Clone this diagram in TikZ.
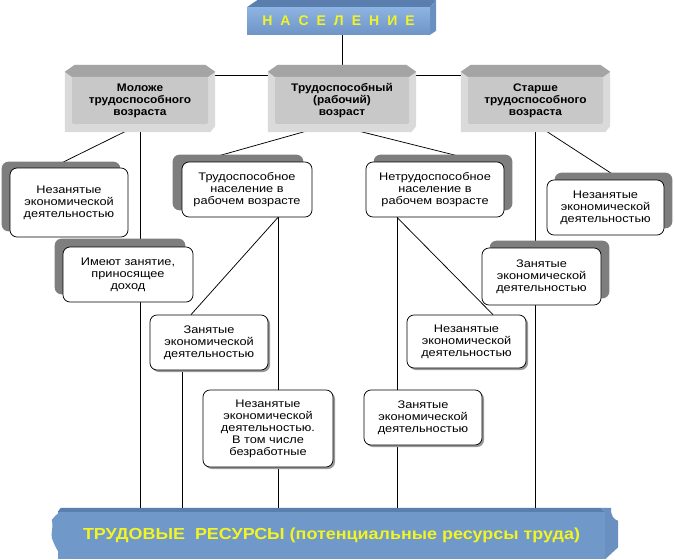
\documentclass[tikz,border=0pt]{standalone}
\usepackage{fontspec}
\setmainfont{Liberation Sans}
\newfontfamily\bxfont{Liberation Sans}[FakeStretch=1.16]
\newfontfamily\gbfont{Liberation Sans}[FakeStretch=1.08]
\newfontfamily\bnfont{Liberation Sans}[FakeStretch=1.12]
\usetikzlibrary{calc,shadows}
\pgfdeclarelayer{bg}
\pgfdeclarelayer{lines}
\pgfdeclarelayer{deco}
\pgfsetlayers{bg,lines,deco,main}
\definecolor{bblue}{HTML}{7099C9}
\definecolor{bdark}{HTML}{5A7EAE}
\definecolor{bside}{HTML}{6A90C2}
\definecolor{hlight}{HTML}{8DB3E2}
\definecolor{hdark}{HTML}{6E95C7}
\definecolor{yel}{HTML}{F2F424}
\definecolor{gfront}{HTML}{C8C8C8}
\definecolor{gtop}{HTML}{A4A4A4}
\definecolor{gedge}{HTML}{DADADA}
\definecolor{shgrey}{HTML}{7E7E7E}
\newcommand\mygbev[1]{%
  \fill[gedge] ($(#1.south west)+(-7,8)$) -- ($(#1.north west)+(-7,-5)$) -- ($(#1.north west)+(3,-12)$) -- ($(#1.north east)+(-3,-12)$) -- ($(#1.north east)+(7,-5)$) -- ($(#1.south east)+(7,2)$) -- ($(#1.south east)+(2,8)$) -- ($(#1.south west)+(2,8)$) -- cycle;
  \fill[gtop] ($(#1.north west)+(-7,-5)$) -- ($(#1.north west)+(3,-12)$) -- ($(#1.north east)+(-3,-12)$) -- ($(#1.north east)+(7,-5)$) -- ($(#1.north east)+(0,0)$) -- ($(#1.north west)$) -- cycle;
}
\newcommand\myupsh[3]{%
  \fill[upshadow] ($(#1.south west)+(#2,#3)$) rectangle ($(#1.north east)+(#2,#3)$);
}
\tikzset{
  wbox/.style={draw=black, line width=0.75pt, fill=white, rounded corners=7pt, align=center,
    font=\bxfont\fontsize{11}{12}\selectfont, inner sep=2pt},
  lowbox/.style={wbox, drop shadow={shadow xshift=2pt, shadow yshift=-2pt, fill=black!40, opacity=1}},
  gbox/.style={fill=gfront, rounded corners=2pt, align=center, font=\gbfont\fontsize{11}{12}\selectfont\bfseries, inner sep=2pt},
  conn/.style={draw=black, line width=0.75pt},
  upshadow/.style={fill=shgrey, rounded corners=7pt},
}
\begin{document}
\begin{tikzpicture}[x=1pt,y=-1pt]
\useasboundingbox (0,0) rectangle (674,559);
\begin{pgfonlayer}{bg}
\fill[white] (0,0) rectangle (674,559);
\end{pgfonlayer}

% header
\node[top color=hlight, bottom color=hdark, minimum width=183pt, minimum height=27pt, inner sep=0pt,
  text=yel, font=\fontsize{14}{16}\selectfont\bfseries] (hdr) at (338.5,21)
  {Н\hspace{8pt}А\hspace{8pt}С\hspace{8pt}Е\hspace{8pt}Л\hspace{8pt}Е\hspace{8pt}Н\hspace{8pt}И\hspace{8pt}Е};

% grey boxes
\node[gbox, minimum width=136pt, minimum height=47pt] (gL) at (140,100.5) {Моложе\\трудоспособного\\возраста};
\node[gbox, minimum width=134pt, minimum height=47pt] (gC) at (342,100.5) {Трудоспособный\\(рабочий)\\возраст};
\node[gbox, minimum width=135pt, minimum height=47pt] (gR) at (535.5,100.5) {Старше\\трудоспособного\\возраста};

% upper white boxes
\node[wbox, minimum width=118pt, minimum height=69pt] (n1) at (69,202.5) {Незанятые\\экономической\\деятельностью};
\node[wbox, minimum width=130pt, minimum height=55pt] (n2) at (128,274.5) {Имеют занятие,\\приносящее\\доход};
\node[wbox, minimum width=130pt, minimum height=55pt] (n3) at (247,189.5) {Трудоспособное\\население в\\рабочем возрасте};
\node[wbox, minimum width=138pt, minimum height=55pt] (n4) at (435,189.5) {Нетрудоспособное\\население в\\рабочем возрасте};
\node[wbox, minimum width=117pt, minimum height=55pt] (n5) at (605.5,207.5) {Незанятые\\экономической\\деятельностью};
\node[wbox, minimum width=119pt, minimum height=57pt] (n6) at (541.5,276.5) {Занятые\\экономической\\деятельностью};

% lower boxes
\node[lowbox, minimum width=118pt, minimum height=55pt] (z1) at (209,342.5) {Занятые\\экономической\\деятельностью};
\node[lowbox, minimum width=130pt, minimum height=77pt] (z2) at (268,428.5) {Незанятые\\экономической\\деятельностью.\\В том числе\\безработные};
\node[lowbox, minimum width=119pt, minimum height=53pt] (z3) at (466.5,341.5) {Незанятые\\экономической\\деятельностью};
\node[lowbox, minimum width=118pt, minimum height=55pt] (z4) at (423,417.5) {Занятые\\экономической\\деятельностью};

% banner
\node[fill=bblue, minimum width=547pt, minimum height=47pt, inner sep=0pt, text=yel,
  font=\bnfont\fontsize{16}{18}\selectfont\bfseries] (tr) at (331.5,535.5)
  {ТРУДОВЫЕ\hspace{5pt} РЕСУРСЫ (потенциальные ресурсы труда)};

% decorations
\begin{pgfonlayer}{deco}
  \fill[bdark] (hdr.north west) -- ($(hdr.north west)+(11,-7.5)$) -- ($(hdr.north east)+(6,-7.5)$) -- (hdr.north east) -- cycle;
  \fill[bside] (hdr.north east) -- ($(hdr.north east)+(6,-7.5)$) -- ($(hdr.south east)+(6,-4)$) -- (hdr.south east) -- cycle;
  \mygbev{gL}\mygbev{gC}\mygbev{gR}
  \myupsh{n1}{-8}{-6}
  \myupsh{n2}{-8}{-8}
  \myupsh{n3}{-9}{-7}
  \myupsh{n4}{8}{-7}
  \myupsh{n5}{8}{-7}
  \myupsh{n6}{8}{-7}
  % banner top strip, right cap, left torn edge
  \fill[bdark] ($(tr.north west)+(3,-4)$) -- ($(tr.north east)+(-5,-4)$) -- (tr.north east) -- (tr.north west) -- cycle;
  \fill[bside] ($(tr.north east)+(-5,-4)$) -- ($(tr.north east)+(6,-4)$) .. controls ($(tr.north east)+(5,4)$) and ($(tr.north east)+(9,8)$) .. ($(tr.north east)+(13,9)$)
     -- ($(tr.south east)+(13,-12)$) -- (tr.south east) -- (tr.north east) -- cycle;
  \fill[bblue] ($(tr.north west)+(4,0)$) .. controls ($(tr.north west)+(-2,2)$) and ($(tr.north west)+(-3,5)$) .. ($(tr.north west)+(-6,8)$)
     .. controls ($(tr.north west)+(-4,14)$) and ($(tr.north west)+(-7,20)$) .. ($(tr.north west)+(-6,26)$)
     .. controls ($(tr.north west)+(-4,32)$) and ($(tr.north west)+(-1,38)$) .. ($(tr.north west)+(2,42)$)
     -- ($(tr.south west)+(8,0)$) -- ($(tr.north west)+(8,0)$) -- cycle;
\end{pgfonlayer}

% connectors
\coordinate (bus) at (343,75.5);
\coordinate (tL) at ($(gL.north)+(10,0)$);
\coordinate (aC) at ($(gC.south)+(-11,0)$);
\coordinate (n2b) at ($(n2.south)+(12,0)$);
\coordinate (n6b) at ($(n6.south)+(-6,0)$);
\coordinate (z1b) at ($(z1.south)+(-27,0)$);
\coordinate (z2b) at ($(z2.south)+(10,0)$);
\coordinate (z4b) at ($(z4.south)+(-26,0)$);
\coordinate (n3b) at ($(n3.south)+(31,0)$);
\coordinate (n4b) at ($(n4.south)+(-38,0)$);
\begin{pgfonlayer}{lines}
  \draw[conn] (gC.north |- hdr.south) -- (gC.north |- bus);
  \draw[conn] (tL |- bus) -- (gR.north |- bus);
  \draw[conn] (tL |- bus) -- (tL);
  \draw[conn] (gC.north |- bus) -- (gC.north);
  \draw[conn] (gR.north |- bus) -- (gR.north);
  \draw[conn] (gL.south) -- ([xshift=-17pt]n1.north);
  \draw[conn] (gL.south) -- ([xshift=12pt]n2.north);
  \draw[conn] (n2b) -- (n2b |- tr.north);
  \draw[conn] (aC) -- ([xshift=-49pt]n3.north);
  \draw[conn] (aC) -- ([xshift=46pt]n4.north);
  \draw[conn] (gR.south) -- ([xshift=15.5pt]n5.north);
  \draw[conn] (gR.south) -- ([xshift=-6pt]n6.north);
  \draw[conn] (n6b) -- (n6b |- tr.north);
  \draw[conn] (n3b) -- ([xshift=-18pt]z1.north);
  \draw[conn] (n3b) -- ([xshift=10pt]z2.north);
  \draw[conn] (z1b) -- (z1b |- tr.north);
  \draw[conn] (z2b) -- (z2b |- tr.north);
  \draw[conn] (n4b) -- ([xshift=26.5pt]z3.north);
  \draw[conn] (n4b) -- ([xshift=-26pt]z4.north);
  \draw[conn] (z4b) -- (z4b |- tr.north);
\end{pgfonlayer}
\end{tikzpicture}
\end{document}
